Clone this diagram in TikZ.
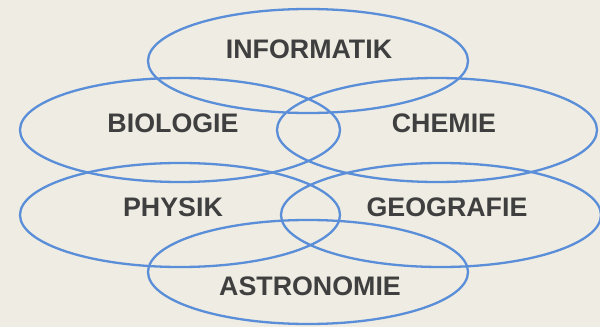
\documentclass[tikz,border=0pt]{standalone}
\usepackage{fontspec}
\setmainfont{Liberation Sans}
\usetikzlibrary{shapes.geometric}
\definecolor{bg}{HTML}{EEECE3}
\definecolor{ring}{HTML}{5A8ED8}
\definecolor{txt}{HTML}{3F3F3F}
\begin{document}
\begin{tikzpicture}[x=1pt,y=1pt,
  field/.style={draw=ring, line width=2.3pt, ellipse, minimum width=320pt, minimum height=104pt, inner sep=0pt},
  lbl/.style={text=txt, font=\fontsize{26.8}{28}\selectfont\bfseries, inner sep=0pt}]
\fill[bg] (0,0) rectangle (600,327);
\useasboundingbox (0,0) rectangle (600,327);
\node[field] (e1) at (308,266) {};
\node[field] (e2) at (180,197) {};
\node[field] (e3) at (437,197) {};
\node[field] (e4) at (180,112) {};
\node[field] (e5) at (441,112) {};
\node[field] (e6) at (308,55) {};
\node[lbl] (t1) at (309,278) {INFORMATIK};
\node[lbl] (t2) at (173,204) {BIOLOGIE};
\node[lbl] (t3) at (444,204) {CHEMIE};
\node[lbl] (t4) at (173,120) {PHYSIK};
\node[lbl] (t5) at (447,120) {GEOGRAFIE};
\node[lbl] (t6) at (310,41) {ASTRONOMIE};
\end{tikzpicture}
\end{document}
